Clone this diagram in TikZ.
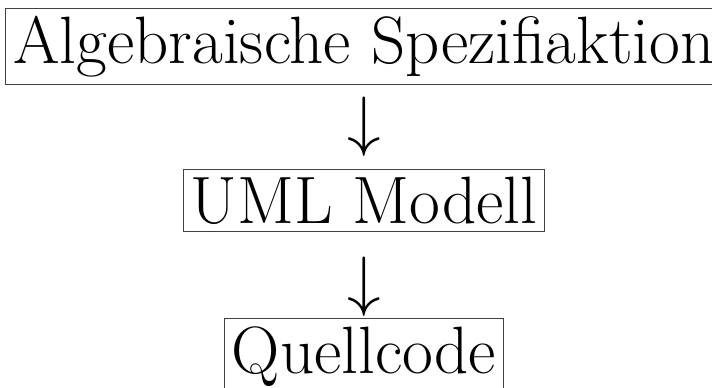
\documentclass[tikz,border=0pt]{standalone}
\begin{document}
\begin{tikzpicture}[x=1pt,y=-1pt,
  bigfont/.style={font=\fontsize{67}{80}\selectfont},
  framed/.style={bigfont,draw=black!75,line width=1pt,inner sep=7.5pt,anchor=base},
  arrowglyph/.style={inner sep=0pt,anchor=base}]
\useasboundingbox (0,0) rectangle (712,388);
\node[framed] (spec) at (364,63) {Algebraische Spezifiaktion};
\node[arrowglyph] (a1) at (364,143) {\scalebox{6.7}{$\downarrow$}};
\node[framed] (uml) at (364,223) {UML Modell};
\node[arrowglyph] (a2) at (364,303) {\scalebox{6.7}{$\downarrow$}};
\node[framed] (code) at (364,373) {Quellcode};
\end{tikzpicture}
\end{document}
